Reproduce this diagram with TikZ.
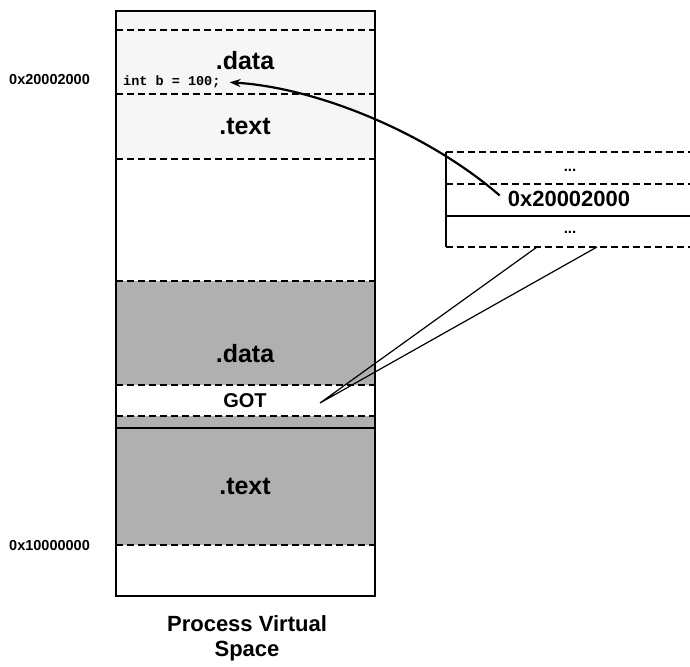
\documentclass[tikz,border=0pt]{standalone}
\usepackage{fontspec}
\setmainfont{Liberation Sans}
\newfontfamily\codefont{Liberation Mono}
\usetikzlibrary{arrows.meta}
\begin{document}
\begin{tikzpicture}[x=1pt,y=-1pt,
  seglbl/.style={font=\bfseries\fontsize{25}{27}\selectfont, inner sep=0pt, anchor=base},
  gotlbl/.style={font=\bfseries\fontsize{20}{22}\selectfont, inner sep=0pt, anchor=base},
  addrlbl/.style={font=\bfseries\fontsize{14.5}{16}\selectfont, inner sep=0pt, anchor=base west},
  bigaddr/.style={font=\bfseries\fontsize{22}{24}\selectfont, inner sep=0pt, anchor=base},
  dots/.style={font=\bfseries\fontsize{15}{17}\selectfont, inner sep=0pt},
  codelbl/.style={font=\codefont\bfseries\fontsize{13.5}{15}\selectfont, inner sep=0pt, anchor=base west},
  titlelbl/.style={font=\bfseries\fontsize{22}{25}\selectfont, inner sep=0pt, align=center, anchor=north},
  dashline/.style={line width=2.1pt, dash pattern=on 7pt off 4pt},
  boxline/.style={line width=1.6pt},
  lightfill/.style={fill=gray!7},
  darkfill/.style={fill=gray!62},
  ptr/.style={line width=2.2pt, -{Stealth[length=11pt,width=8pt]}},
  wedge/.style={line width=1.2pt},
]
\useasboundingbox (0,0) rectangle (690,666);

% --- process virtual space column ---
\fill[lightfill] (116,11) rectangle (375,159);
\fill[darkfill] (116,281) rectangle (375,385);
\fill[darkfill] (116,416) rectangle (375,545);
\foreach \yy in {30,94,159,281,385,416,545}
  \draw[dashline] (116,\yy) -- (375,\yy);
\draw[boxline] (116,428) -- (375,428);
\draw[boxline] (116,11) rectangle (375,596);

\node[seglbl] (data1) at (245,70) {.data};
\node[codelbl] (intb) at (123,86) {int b = 100;};
\node[seglbl] (text1) at (245,135) {.text};
\node[seglbl] (data2) at (245,362) {.data};
\node[gotlbl] (got) at (245,407) {GOT};
\node[seglbl] (text2) at (245,494) {.text};

\node[addrlbl] (addrhi) at (9,85) {0x20002000};
\node[addrlbl] (addrlo) at (9,550) {0x10000000};

\node[titlelbl] (title) at (247,615) {Process Virtual\\Space};

% --- GOT entries box ---
\draw[dashline] (446,152) -- (690,152);
\draw[dashline] (446,184) -- (690,184);
\draw[boxline] (446,216) -- (690,216);
\draw[dashline] (446,247) -- (690,247);
\draw[boxline] (446,152) -- (446,247);

\node[dots] (dtop) at (570,170) {...};
\node[bigaddr] (addr) at (569,206) {0x20002000};
\node[dots] (dbot) at (570,232) {...};

% --- connectors ---
\coordinate (gotpt) at (320,403);
\coordinate (wl) at (537,247);
\coordinate (wr) at (597,247);
\draw[wedge] (wl) -- (gotpt) -- (wr);

\coordinate (ptrstart) at ([xshift=-8pt,yshift=-5pt]addr.north west);
\draw[ptr] (ptrstart) .. controls (430,135) and (320,88) .. ([xshift=9pt]intb.east);
\end{tikzpicture}
\end{document}
